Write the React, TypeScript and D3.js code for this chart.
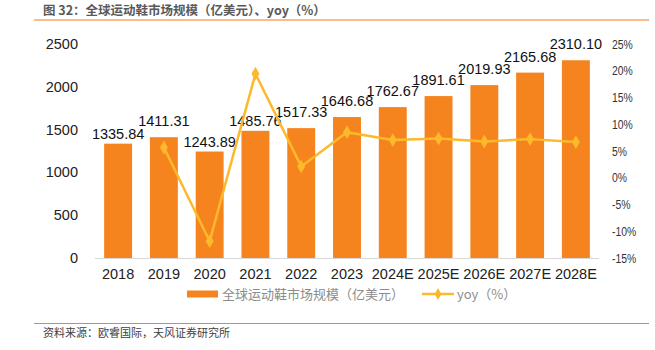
import React, { useEffect, useRef } from 'react';
import { select, scaleBand, scaleLinear, line, symbol, symbolDiamond } from 'd3';

// data
const years = ['2018', '2019', '2020', '2021', '2022', '2023', '2024E', '2025E', '2026E', '2027E', '2028E'];
const marketSize = [1335.84, 1411.31, 1243.89, 1485.76, 1517.33, 1646.68, 1762.67, 1891.61, 2019.93, 2165.68, 2310.1];
const yoy = [null, 5.65, -11.86, 19.44, 2.12, 8.52, 7.04, 7.32, 6.78, 7.22, 6.67];
const leftTicks = [0, 500, 1000, 1500, 2000, 2500];
const rightTicks = [-15, -10, -5, 0, 5, 10, 15, 20, 25];

const title = '图 32：全球运动鞋市场规模（亿美元）、yoy（%）';
const source = '资料来源：欧睿国际，天风证券研究所';
const barName = '全球运动鞋市场规模（亿美元）';
const lineName = 'yoy（%）';

const W = 655;
const H = 350;
const BAR = '#F5841F';
const LINE = '#FBB92B';
const FONT = '"Liberation Sans", Arial, sans-serif';
const CJK = '"Noto Sans CJK SC", sans-serif';

const App = () => {
  const ref = useRef<SVGSVGElement>(null);

  useEffect(() => {
    const svg = select(ref.current);
    svg.selectAll('*').remove();

    const x = scaleBand().domain(years).range([95, 599]).paddingInner(0.39).paddingOuter(0.2);
    const y = scaleLinear().domain([0, 2500]).range([258, 44]);
    const y2 = scaleLinear().domain([-15, 25]).range([258, 44]);

    // header / footer
    svg.append('text').attr('x', 43).attr('y', 15).attr('font-family', CJK).attr('font-size', 12.5)
      .attr('font-weight', 'bold').attr('fill', '#595959').text(title);
    svg.append('line').attr('x1', 34).attr('x2', 649).attr('y1', 20).attr('y2', 20)
      .attr('stroke', '#F8A56A').attr('stroke-width', 1.5);
    svg.append('line').attr('x1', 34).attr('x2', 649).attr('y1', 323.5).attr('y2', 323.5)
      .attr('stroke', '#F5841F').attr('stroke-width', 1.2);
    svg.append('text').attr('x', 43).attr('y', 337).attr('font-family', CJK).attr('font-size', 11)
      .attr('fill', '#404040').text(source);

    // left axis
    svg.append('g').selectAll('text').data(leftTicks).join('text')
      .attr('x', 78).attr('y', d => y(d)).attr('dy', '0.35em').attr('text-anchor', 'end')
      .attr('font-family', FONT).attr('font-size', 14.5).attr('fill', '#222').text(d => d);

    // right axis (narrow face in the source, so squeeze horizontally)
    svg.append('g').selectAll('text').data(rightTicks).join('text')
      .attr('transform', d => `translate(612,${y2(d)}) scale(0.8,1)`).attr('dy', '0.35em')
      .attr('font-family', FONT).attr('font-size', 13).attr('fill', '#333').text(d => `${d}%`);

    // bars
    svg.append('g').selectAll('rect').data(marketSize).join('rect')
      .attr('x', (d, i) => x(years[i])!).attr('y', d => y(d))
      .attr('width', x.bandwidth()).attr('height', d => 258 - y(d)).attr('fill', BAR);

    // baseline
    svg.append('line').attr('x1', 95).attr('x2', 599).attr('y1', 258.5).attr('y2', 258.5)
      .attr('stroke', '#d9d9d9').attr('stroke-width', 1);

    // bar labels (some sit closer to the bar, as in the source)
    const tight = new Set(['2018', '2020', '2021']);
    svg.append('g').selectAll('text').data(marketSize).join('text')
      .attr('x', (d, i) => x(years[i])! + x.bandwidth() / 2)
      .attr('y', (d, i) => y(d) - (tight.has(years[i]) ? 5 : 11))
      .attr('text-anchor', 'middle').attr('font-family', FONT).attr('font-size', 14.5)
      .attr('fill', '#111').text(d => d.toFixed(2));

    // x labels
    svg.append('g').selectAll('text').data(years).join('text')
      .attr('x', d => x(d)! + x.bandwidth() / 2).attr('y', 279).attr('text-anchor', 'middle')
      .attr('font-family', FONT).attr('font-size', 14.5).attr('fill', '#222').text(d => d);

    // yoy line
    const pts = years.map((d, i) => ({ k: d, v: yoy[i] })).filter(d => d.v !== null) as { k: string; v: number }[];
    const ln = line<{ k: string; v: number }>().x(d => x(d.k)! + x.bandwidth() / 2).y(d => y2(d.v));
    svg.append('path').datum(pts).attr('d', ln).attr('fill', 'none').attr('stroke', LINE)
      .attr('stroke-width', 2.5).attr('stroke-linejoin', 'round');
    const diamond = symbol().type(symbolDiamond).size(55);
    svg.append('g').selectAll('path').data(pts).join('path')
      .attr('transform', d => `translate(${x(d.k)! + x.bandwidth() / 2},${y2(d.v)})`)
      .attr('d', diamond()).attr('fill', LINE);

    // legend
    const lg = svg.append('g');
    lg.append('rect').attr('x', 187).attr('y', 290.5).attr('width', 31).attr('height', 7).attr('fill', BAR);
    lg.append('text').attr('x', 222).attr('y', 294).attr('dy', '0.35em').attr('font-family', CJK)
      .attr('font-size', 13).attr('fill', '#8c8c8c').text(barName);
    lg.append('line').attr('x1', 422).attr('x2', 454).attr('y1', 294).attr('y2', 294)
      .attr('stroke', LINE).attr('stroke-width', 2.5);
    lg.append('path').attr('transform', 'translate(438,294)')
      .attr('d', symbol().type(symbolDiamond).size(40)()).attr('fill', LINE);
    lg.append('text').attr('x', 457).attr('y', 294).attr('dy', '0.35em').attr('font-family', CJK)
      .attr('font-size', 13).attr('fill', '#8c8c8c').text(lineName);
  }, []);

  return (
    <svg ref={ref} width={W} height={H}
      style={{ position: 'absolute', left: 0, top: 0, background: '#fff' }} />
  );
};

export default App;
